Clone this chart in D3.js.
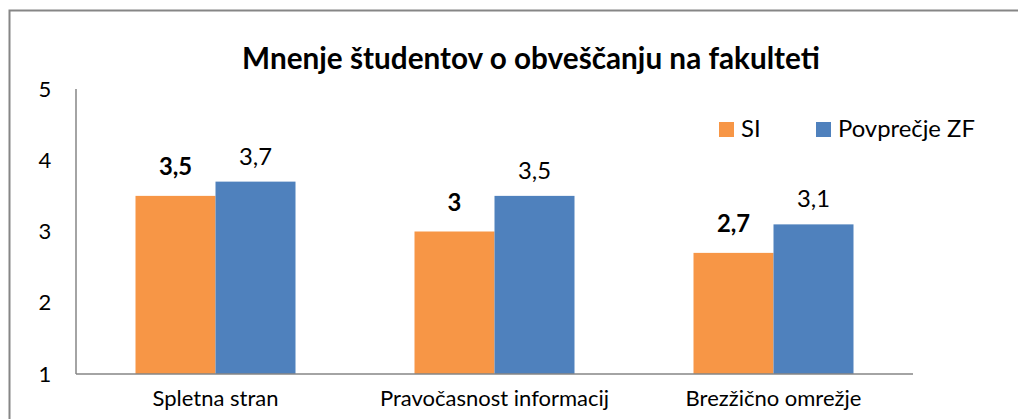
<!DOCTYPE html>
<html><head><meta charset="utf-8">
<script src="https://cdn.jsdelivr.net/npm/d3@7"></script>
<style>body{margin:0;background:#fff}svg{display:block}text{font-family:Lato,"Open Sans",sans-serif}</style>
</head><body>
<script>
const categories = ["Spletna stran", "Pravočasnost informacij", "Brezžično omrežje"];
const seriesNames = ["SI", "Povprečje ZF"];
const siValues = [3.5, 3.0, 2.7];
const zfValues = [3.7, 3.5, 3.1];
const siLabels = ["3,5", "3", "2,7"];
const zfLabels = ["3,7", "3,5", "3,1"];
const yTicks = [1, 2, 3, 4, 5];
const title = "Mnenje študentov o obveščanju na fakulteti";
const colors = ["#F79646", "#4F81BD"];

(function () {
const W = 1018, H = 419;
const svg = d3.select("body").append("svg").attr("width", W).attr("height", H);

svg.append("rect").attr("x", 9.5).attr("y", 10.5).attr("width", 1020).attr("height", 430)
  .attr("fill", "none").attr("stroke", "#868686").attr("stroke-width", 2);

const mLeft = 76, mRight = 913, mTop = 89, mBottom = 374;
const x = d3.scaleBand().domain(categories).range([mLeft, mRight]);
const y = d3.scaleLinear().domain([1, 5]).range([mBottom, mTop]);
const barW = 80;

function fitSize(str, weight, target) {
  const tmp = svg.append("text").attr("font-size", 20).attr("font-weight", weight).text(str);
  const w = tmp.node().getComputedTextLength();
  tmp.remove();
  return 20 * target / w;
}
const fsTitle = fitSize(title, "bold", 578);
const fsAxis = fitSize(categories[0], "normal", 126);
const fsLeg = fitSize(seriesNames[1], "normal", 137);

svg.append("text").attr("x", 531).attr("y", 69).attr("text-anchor", "middle")
  .attr("font-weight", "bold").attr("font-size", fsTitle).attr("fill", "#000").text(title);

svg.append("line").attr("x1", mLeft).attr("x2", mLeft).attr("y1", y(5)).attr("y2", mBottom)
  .attr("stroke", "#868686").attr("stroke-width", 1.5);

svg.selectAll(".ytick").data(yTicks).join("text").attr("class", "ytick")
  .attr("x", 45).attr("y", d => y(d)).attr("dy", "0.35em").attr("text-anchor", "middle")
  .attr("font-size", fsAxis).attr("fill", "#000").text(d => d);

const data = categories.map((c, i) => ({c, si: siValues[i], zf: zfValues[i], sl: siLabels[i], zl: zfLabels[i]}));

const g = svg.append("g");
data.forEach(d => {
  const cx = x(d.c) + x.bandwidth() / 2;
  g.append("rect").attr("x", cx - barW).attr("y", y(d.si)).attr("width", barW)
    .attr("height", mBottom - y(d.si)).attr("fill", colors[0]);
  g.append("rect").attr("x", cx).attr("y", y(d.zf)).attr("width", barW)
    .attr("height", mBottom - y(d.zf)).attr("fill", colors[1]);
  g.append("text").attr("x", cx - barW / 2).attr("y", y(d.si) - 21).attr("text-anchor", "middle")
    .attr("font-weight", "bold").attr("font-size", fsLeg).attr("fill", "#000").text(d.sl);
  g.append("text").attr("x", cx + barW / 2).attr("y", y(d.zf) - 17).attr("text-anchor", "middle")
    .attr("font-size", fsLeg).attr("fill", "#000").text(d.zl);
  svg.append("text").attr("x", cx).attr("y", 406).attr("text-anchor", "middle")
    .attr("font-size", fsAxis).attr("fill", "#000").text(d.c);
});

svg.append("line").attr("x1", mLeft).attr("x2", mRight).attr("y1", mBottom).attr("y2", mBottom)
  .attr("stroke", "#868686").attr("stroke-width", 1.5);

const legX = [719, 816];
seriesNames.forEach((s, i) => {
  svg.append("rect").attr("x", legX[i]).attr("y", 122).attr("width", 15).attr("height", 15).attr("fill", colors[i]);
  svg.append("text").attr("x", legX[i] + 22).attr("y", 137).attr("font-size", fsLeg).attr("fill", "#000").text(s);
});
})();
</script>
</body></html>
